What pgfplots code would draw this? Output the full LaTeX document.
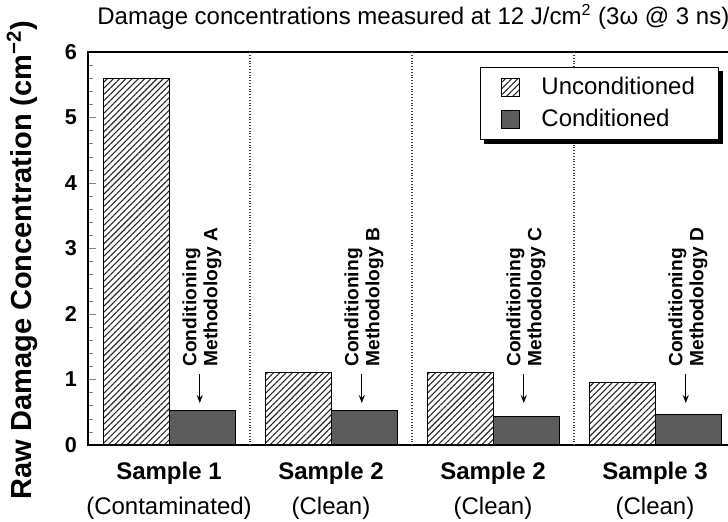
\documentclass[border=0pt]{standalone}
\usepackage{fontspec}
\setmainfont{Liberation Sans}
\usepackage{pgfplots}
\pgfplotsset{compat=1.18}
\usetikzlibrary{patterns.meta, arrows.meta}

\begin{document}
\begin{tikzpicture}
\begin{axis}[
  at={(44pt,38.5pt)}, anchor=south west,
  scale only axis, width=324pt, height=196.5pt,
  xmin=0.5, xmax=4.5, ymin=0, ymax=6,
  ybar, bar width=33pt,
  xtick={1,2,3,4},
  xticklabels={{\textbf{Sample 1}\\(Contaminated)}, {\textbf{Sample 2}\\(Clean)}, {\textbf{Sample 2}\\(Clean)}, {\textbf{Sample 3}\\(Clean)}},
  xticklabel style={align=center, font=\fontsize{12}{17.5}\selectfont, yshift=-5pt},
  x tick style={draw=none},
  extra x ticks={1.5,2.5,3.5},
  extra x tick labels={},
  extra x tick style={grid=major, major grid style={black!75, densely dotted, line width=0.6pt}},
  ytick={0,1,...,6},
  minor y tick num=4,
  ytick pos=left,
  tick align=inside,
  major tick length=4pt, minor tick length=2.5pt,
  yticklabel style={font=\bfseries\fontsize{10.8}{12}\selectfont, xshift=-2pt},
  /pgf/number format/assume math mode=true,
  axis line style={line width=0.8pt},
  clip=false,
  legend style={name=leg, at={(0.605,0.962)}, anchor=north west, draw=black, line width=0.6pt, fill=white,
    font=\fontsize{12}{14}\selectfont, inner xsep=10pt, inner ysep=3pt, row sep=1.5pt,
    /tikz/every odd column/.append style={column sep=9pt}},
  legend cell align=left,
  legend image code/.code={\draw[#1, line width=0.4pt] (0pt,-4.5pt) rectangle (9pt,4.5pt);},
]
\addplot[bar shift=-16.5pt, draw=black, line width=0.5pt,
  pattern={Lines[angle=45, distance=2.2pt, line width=0.55pt]}, pattern color=black!85]
  coordinates {(1,5.60) (2,1.11) (3,1.11) (4,0.96)};
\addplot[bar shift=16.5pt, draw=black, line width=0.5pt, fill=black!64]
  coordinates {(1,0.52) (2,0.52) (3,0.44) (4,0.47)};
\legend{Unconditioned, Conditioned}

\node[rotate=90, anchor=west, align=left, inner sep=0pt, font=\bfseries\fontsize{9.6}{10.5}\selectfont] at (axis cs:1.2037,1.19) {Conditioning\\Methodology A};
\node[rotate=90, anchor=west, align=left, inner sep=0pt, font=\bfseries\fontsize{9.6}{10.5}\selectfont] at (axis cs:2.2037,1.19) {Conditioning\\Methodology B};
\node[rotate=90, anchor=west, align=left, inner sep=0pt, font=\bfseries\fontsize{9.6}{10.5}\selectfont] at (axis cs:3.2037,1.19) {Conditioning\\Methodology C};
\node[rotate=90, anchor=west, align=left, inner sep=0pt, font=\bfseries\fontsize{9.6}{10.5}\selectfont] at (axis cs:4.2037,1.19) {Conditioning\\Methodology D};
\draw[line width=0.6pt, -{Stealth[length=4pt,width=3pt]}] (axis cs:1.19,1.09) -- (axis cs:1.19,0.64);
\draw[line width=0.6pt, -{Stealth[length=4pt,width=3pt]}] (axis cs:2.19,1.09) -- (axis cs:2.19,0.64);
\draw[line width=0.6pt, -{Stealth[length=4pt,width=3pt]}] (axis cs:3.19,1.09) -- (axis cs:3.19,0.64);
\draw[line width=0.6pt, -{Stealth[length=4pt,width=3pt]}] (axis cs:4.19,1.09) -- (axis cs:4.19,0.64);
\end{axis}
\draw[black, line width=2pt] ([shift={(1pt,-2pt)}]leg.north east) -- ([shift={(1pt,-1pt)}]leg.south east) -- ([shift={(2pt,-1pt)}]leg.south west);
\node[anchor=west, font=\fontsize{12}{14}\selectfont, inner sep=0pt] at (48.5pt,252.5pt) {Damage concentrations measured at 12 J/cm\textsuperscript{2} (3ω @ 3 ns)};
\node[rotate=90, font=\bfseries\fontsize{14.5}{17}\selectfont, inner sep=0pt] at (11pt,131pt) {Raw Damage Concentration (cm\textsuperscript{−2})};
\pgfresetboundingbox
\useasboundingbox (0,0) rectangle (364pt,261pt);
\end{tikzpicture}
\end{document}
